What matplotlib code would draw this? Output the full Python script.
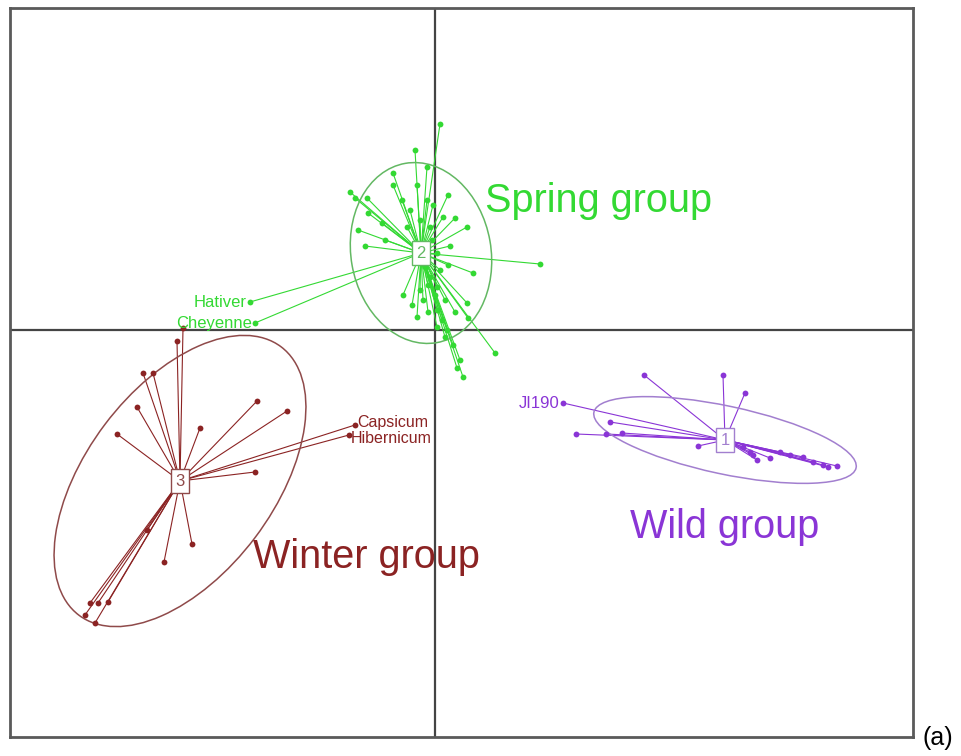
import numpy as np
import matplotlib
matplotlib.use("Agg")
import matplotlib.pyplot as plt
from matplotlib.patches import Ellipse

plt.rcParams["font.family"] = ["Liberation Sans", "DejaVu Sans"]

# ---------------------------------------------------------------- data
# factorial scores (axis 1, axis 2) of each accession, by group
SPRING_X = [0.05, -0.20, -0.08, -0.42, -0.85, -0.80, -0.68, -0.42, -0.33, -0.18,
            -0.08, 0.13, 0.08, 0.20, 0.32, -0.67, -0.77, -0.70, -0.53, -0.28,
            -0.05, 0.15, 0.13, 0.38, 1.05, -0.32, -0.18, -0.07, 0.02, 0.20,
            0.32, 0.33, -0.12, -0.05, -0.10, 0.02, 0.02, 0.60, 0.18, 0.22,
            0.28, 0.02, 0.10, -0.03, -0.07, 0.00, 0.05, -0.15, 0.10, -0.25,
            -0.15, -0.02, 0.12, 0.25, 0.07, -0.23, -0.50, -1.85, -1.80]
SPRING_Y = [2.06, 1.80, 1.63, 1.57, 1.38, 1.32, 1.32, 1.45, 1.30, 1.45,
            1.30, 1.35, 1.13, 1.12, 1.03, 1.17, 1.00, 0.84, 1.07, 1.03,
            1.03, 0.84, 0.65, 0.57, 0.66, 0.35, 0.13, 0.18, 0.20, 0.18,
            0.27, 0.12, 0.30, 0.53, 0.63, 0.77, 0.43, -0.23, -0.15, -0.38,
            -0.47, 0.03, -0.07, 0.90, 0.45, 0.35, 0.60, 0.40, 0.30, 1.20,
            1.10, 1.25, 0.00, -0.30, 0.10, 0.25, 0.90, 0.28, 0.07]

WINTER_X = [-2.58, -2.52, -2.92, -2.82, -2.98, -3.18, -2.35, -1.78, -1.48, -1.80,
            -0.80, -0.86, -2.43, -2.71, -3.45, -3.37, -3.27, -3.50, -3.40, -2.88]
WINTER_Y = [-0.11, 0.02, -0.43, -0.43, -0.77, -1.04, -0.98, -0.71, -0.81, -1.42,
            -0.95, -1.05, -2.14, -2.32, -2.73, -2.73, -2.72, -2.85, -2.93, -2.00]

WILD_X = [2.09, 2.88, 3.10, 1.28, 1.75, 1.41, 1.71, 1.87, 2.63, 3.08, 3.18,
          3.35, 3.22, 3.45, 3.68, 3.78, 3.88, 4.02, 3.93, 3.55, 3.15]
WILD_Y = [-0.45, -0.45, -0.63, -0.73, -0.92, -1.04, -1.04, -1.03, -1.16, -1.17, -1.25,
          -1.28, -1.30, -1.22, -1.27, -1.32, -1.35, -1.36, -1.37, -1.25, -1.22]

# group centroids and inertia ellipses (half-axes, angle in degrees)
GROUP_ID   = ["2", "3", "1"]
GROUP_NAME = ["Spring group", "Winter group", "Wild group"]
CENTER_X   = [-0.14, -2.55, 2.90]
CENTER_Y   = [0.77, -1.51, -1.10]
ELL_A      = [0.91, 1.68, 1.34]
ELL_B      = [0.70, 0.94, 0.34]
ELL_ANGLE  = [100, 53, -12]
NAME_X     = [0.50, -1.82, 1.95]
NAME_Y     = [1.29, -2.27, -1.97]

# labelled accessions (label anchor = point)
LAB_TEXT = ["Hativer", "Cheyenne", "Capsicum", "Hibernicum", "JI190"]
LAB_X    = [-1.85, -1.80, -0.80, -0.86, 1.28]
LAB_Y    = [0.28, 0.07, -0.95, -1.05, -0.73]
LAB_GRP  = [0, 0, 1, 1, 2]

# colours: (points/text, ellipse)
COLORS   = ["#33d933", "#8b2323", "#8a35d6"]
ELL_COLS = ["#63b863", "#8f4a4a", "#a27fcf"]

POINTS = [(SPRING_X, SPRING_Y), (WINTER_X, WINTER_Y), (WILD_X, WILD_Y)]

# ---------------------------------------------------------------- plot
fig = plt.figure(figsize=(9.61, 7.56), dpi=100)
ax = fig.add_axes([10 / 961, 19 / 756, 903 / 961, 729 / 756])
ax.set_xlim(-4.25, 4.78)
ax.set_ylim(-4.07, 3.22)
ax.set_xticks([])
ax.set_yticks([])
for sp in ax.spines.values():
    sp.set_color("#5a5a5a")
    sp.set_linewidth(2)

ax.axhline(0, color="#444444", lw=1.6, zorder=1)
ax.axvline(0, color="#444444", lw=1.6, zorder=1)

for g, (xs, ys) in enumerate(POINTS):
    col = COLORS[g]
    cx, cy = CENTER_X[g], CENTER_Y[g]
    for x, y in zip(xs, ys):
        ax.plot([cx, x], [cy, y], color=col, lw=0.8, zorder=2)
    ax.plot(xs, ys, "o", color=col, ms=4.2, mec="none", zorder=3)
    ax.add_patch(Ellipse((cx, cy), 2 * ELL_A[g], 2 * ELL_B[g], angle=ELL_ANGLE[g],
                         fill=False, ec=ELL_COLS[g], lw=1.1, zorder=2))
    ax.text(cx, cy, GROUP_ID[g], color=ELL_COLS[g], fontsize=12,
            ha="center", va="center", zorder=5,
            bbox=dict(boxstyle="square,pad=0.25", fc="white", ec=ELL_COLS[g], lw=1))
    ax.text(NAME_X[g], NAME_Y[g], GROUP_NAME[g], color=col, fontsize=28.5,
            ha="left", va="center", zorder=5)

for i, (t, x, y, g) in enumerate(zip(LAB_TEXT, LAB_X, LAB_Y, LAB_GRP)):
    if g == 1:
        # the two winter labels sit very close; nudge them apart a little
        ax.text(x + 0.02, y + (0.03 if t == "Capsicum" else -0.03), t,
                color=COLORS[g], fontsize=11.5, ha="left", va="center", zorder=4)
    else:
        ax.text(x - 0.03, y, t, color=COLORS[g], fontsize=12, ha="right",
                va="center", zorder=4)

fig.text(923 / 961, 1 - 738 / 756, "(a)", fontsize=18, ha="left", va="center")

fig.savefig("out.png", dpi=100)
